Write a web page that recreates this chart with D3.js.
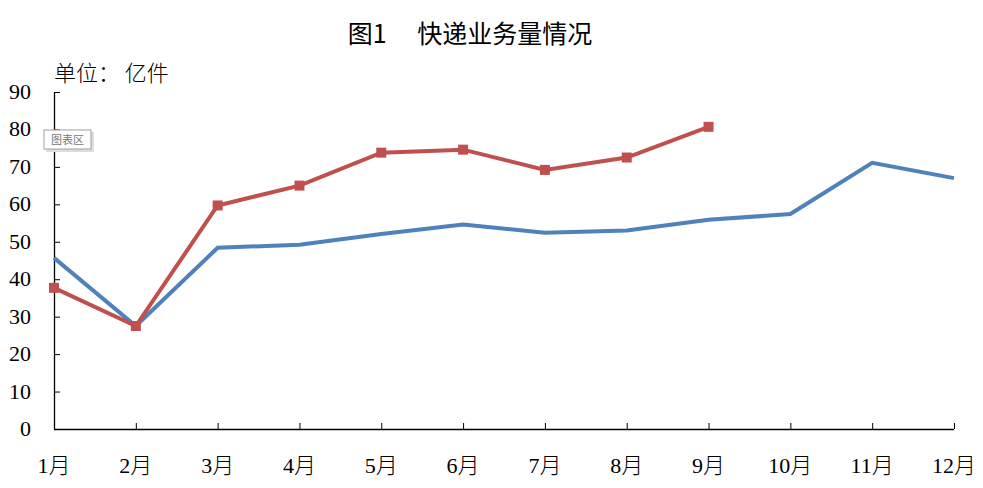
<!DOCTYPE html>
<html>
<head>
<meta charset="utf-8">
<script src="https://cdn.jsdelivr.net/npm/d3@7"></script>
<style>
  body { margin: 0; background: #fff; }
  svg { display: block; }
</style>
</head>
<body>
<svg id="chart" width="983" height="488"></svg>
<script>
// data (亿件)
var months = ["1月", "2月", "3月", "4月", "5月", "6月", "7月", "8月", "9月", "10月", "11月", "12月"];
var lastYear = [45.7, 27.5, 48.4, 49.2, 52.1, 54.6, 52.4, 53.0, 55.9, 57.4, 71.1, 67.0];
var thisYear = [37.7, 27.5, 59.7, 65.0, 73.8, 74.6, 69.2, 72.5, 80.7];
var yTicks = [0, 10, 20, 30, 40, 50, 60, 70, 80, 90];

var svg = d3.select("#chart");
var plotL = 54, plotR = 954, plotT = 92, plotB = 429;

var x = d3.scalePoint().domain(months).range([plotL, plotR]);
var y = d3.scaleLinear().domain([0, 90]).range([plotB, plotT]);

// title
svg.append("text")
  .attr("x", 470).attr("y", 43)
  .attr("text-anchor", "middle")
  .style("font-family", "'Noto Sans CJK SC', sans-serif")
  .style("font-size", "25px")
  .text("图1　 快递业务量情况");

// unit
svg.append("text")
  .attr("x", 54).attr("y", 81)
  .style("font-family", "'Noto Sans CJK SC', sans-serif")
  .style("font-size", "22px")
  .style("font-weight", "300")
  .text("单位： 亿件");

// y axis, ticks pointing into the plot
var yAxis = svg.append("g")
  .attr("transform", "translate(" + plotL + ",0)")
  .call(d3.axisRight(y).tickValues(yTicks).tickSize(6).tickFormat(""));
yAxis.select(".domain").attr("d", "M0.5," + plotT + "V" + plotB);

svg.selectAll(".ylab").data(yTicks).enter().append("text")
  .attr("class", "ylab")
  .attr("x", 31).attr("y", function(d) { return y(d) + 7; })
  .attr("text-anchor", "end")
  .style("font-family", "'Liberation Serif', serif")
  .style("font-size", "22px")
  .text(function(d) { return d; });

// x axis, ticks pointing up
var xAxis = svg.append("g")
  .attr("transform", "translate(0," + plotB + ")")
  .call(d3.axisTop(x).tickSize(6).tickFormat(""));
xAxis.select(".domain").attr("d", "M" + plotL + ",0.5H" + plotR);

svg.selectAll(".xlab").data(months).enter().append("text")
  .attr("class", "xlab")
  .attr("x", function(d) { return x(d); }).attr("y", 473)
  .attr("text-anchor", "middle")
  .style("font-size", "22px")
  .each(function(d) {
    var t = d3.select(this);
    t.append("tspan").style("font-family", "'Liberation Serif', serif").text(d.replace("月", ""));
    t.append("tspan").style("font-family", "'Noto Sans CJK SC', sans-serif").style("font-weight", "300").text("月");
  });

svg.selectAll(".tick line").attr("stroke", "#000");
svg.selectAll(".domain").attr("stroke", "#000").attr("stroke-width", 1.3);

var line = d3.line()
  .x(function(d, i) { return x(months[i]); })
  .y(function(d) { return y(d); });

svg.append("path").datum(lastYear)
  .attr("d", line)
  .attr("fill", "none")
  .attr("stroke", "#4F81BD")
  .attr("stroke-width", 4);

svg.append("path").datum(thisYear)
  .attr("d", line)
  .attr("fill", "none")
  .attr("stroke", "#C0504D")
  .attr("stroke-width", 4);

svg.selectAll(".mk").data(thisYear).enter().append("rect")
  .attr("class", "mk")
  .attr("x", function(d, i) { return x(months[i]) - 5; })
  .attr("y", function(d) { return y(d) - 5; })
  .attr("width", 10).attr("height", 10)
  .attr("fill", "#C0504D");

// the "图表区" hover tag left in the screenshot
var tag = svg.append("g").attr("transform", "translate(44,130)");
tag.append("rect").attr("x", 2).attr("y", 2).attr("width", 48).attr("height", 20).attr("fill", "#ddd");
tag.append("rect").attr("width", 47).attr("height", 19).attr("fill", "#fff").attr("stroke", "#a0a0a0");
tag.append("text").attr("x", 23.5).attr("y", 14).attr("text-anchor", "middle")
  .style("font-family", "'Noto Sans CJK SC', sans-serif")
  .style("font-size", "11px").attr("fill", "#777")
  .text("图表区");
</script>
</body>
</html>
